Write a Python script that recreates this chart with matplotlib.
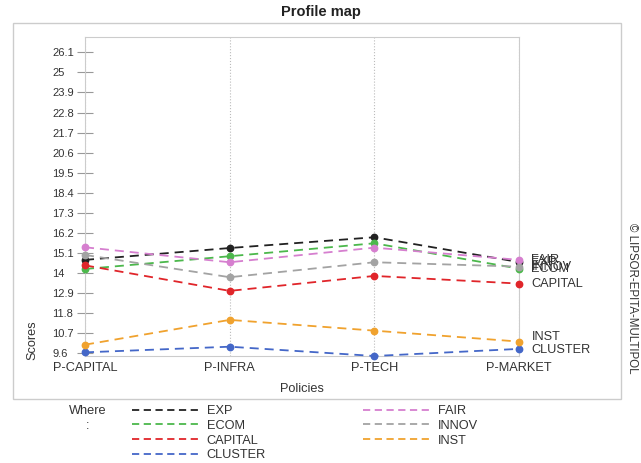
import matplotlib
matplotlib.use("Agg")
import matplotlib.pyplot as plt
from matplotlib.patches import Rectangle

plt.rcParams['font.family'] = ['Liberation Sans', 'DejaVu Sans']

# data
policies = ['P-CAPITAL', 'P-INFRA', 'P-TECH', 'P-MARKET']
series = ['EXP', 'ECOM', 'CAPITAL', 'CLUSTER', 'FAIR', 'INNOV', 'INST']
exp_vals = [14.72, 15.37, 15.96, 14.60]
ecom_vals = [14.22, 14.92, 15.63, 14.24]
capital_vals = [14.42, 13.02, 13.84, 13.42]
cluster_vals = [9.65, 9.96, 9.45, 9.84]
fair_vals = [15.41, 14.59, 15.39, 14.72]
innov_vals = [14.99, 13.77, 14.59, 14.35]
inst_vals = [10.07, 11.43, 10.84, 10.24]
ytick_vals = [9.6, 10.7, 11.8, 12.9, 14, 15.1, 16.2, 17.3, 18.4, 19.5, 20.6, 21.7, 22.8, 23.9, 25, 26.1]
ytick_labels = ['9.6', '10.7', '11.8', '12.9', '14', '15.1', '16.2', '17.3', '18.4', '19.5',
                '20.6', '21.7', '22.8', '23.9', '25', '26.1']

values = [exp_vals, ecom_vals, capital_vals, cluster_vals, fair_vals, innov_vals, inst_vals]
colors = ['#222222', '#4cb84c', '#e0252a', '#4467c8', '#d67fcf', '#a3a3a3', '#f0a22e']
label_nudge = {'INST': 3, 'CLUSTER': -1}  # points, to keep end labels readable

fig = plt.figure(figsize=(6.41, 4.63), dpi=100)
ax = fig.add_axes([85 / 641, 1 - 356 / 463, 434 / 641, 319 / 463])

# outer frame
fig.patches.append(Rectangle((12.7 / 641, 1 - 399 / 463), 608 / 641, 376 / 463,
                             transform=fig.transFigure, fill=False,
                             edgecolor='#cccccc', linewidth=1.0))

x = list(range(len(policies)))
for name, vals, c in zip(series, values, colors):
    ax.plot(x, vals, color=c, linewidth=1.3, dashes=(5, 3.3), marker='o',
            markersize=4.6, label=name, clip_on=False, zorder=3)
    ax.annotate(name, xy=(x[-1], vals[-1]), xytext=(9, label_nudge.get(name, 0)),
                textcoords='offset points', va='center', ha='left',
                fontsize=9.2, color='#333333', annotation_clip=False)

ax.set_xlim(0, 3)
ax.set_ylim(9.45, 26.94)
ax.set_xticks(x)
ax.set_xticklabels(policies, fontsize=9.2, color='#333333')
ax.set_yticks(ytick_vals)
ax.set_yticklabels(ytick_labels, fontsize=8, color='#333333')
ax.tick_params(axis='x', length=0, pad=4)
ax.tick_params(axis='y', direction='inout', length=12, color='#999999', pad=17.5)
plt.setp(ax.get_yticklabels(), ha='left')

ax.xaxis.grid(True, linestyle=':', color='#bbbbbb', linewidth=0.8)
for s in ax.spines.values():
    s.set_color('#cccccc')

ax.set_xlabel('Policies', fontsize=9.2, color='#333333', labelpad=7)
ax.set_ylabel('Scores', fontsize=9.2, color='#333333')
ax.yaxis.set_label_coords(-0.108, 0.05)

fig.text(0.5, 1 - 12 / 463, 'Profile map', ha='center', va='center',
         fontsize=10.5, fontweight='bold', color='#222222')

leg = fig.legend(loc='upper left', bbox_to_anchor=(131.7 / 641, 1 - 405 / 463), ncol=2,
                 frameon=False, fontsize=9.2, handlelength=5.2, handletextpad=0.68,
                 columnspacing=7.6, labelspacing=0.22, borderpad=0, borderaxespad=0,
                 labelcolor='#333333')
# legend handles: plain dashed lines, no markers
for h in leg.legend_handles:
    h.set_marker('')
    h.set_dashes((4, 2.5))

fig.text(88 / 641, 1 - 405 / 463, 'Where\n:', ha='center', va='top',
         fontsize=9.2, color='#333333', linespacing=1.3)

fig.text(632 / 641, 1 - 298 / 463, '\u00a9 LIPSOR-EPITA-MULTIPOL', rotation=-90,
         ha='center', va='center', fontsize=8.3, color='#333333')

fig.savefig('out.png', dpi=100)
